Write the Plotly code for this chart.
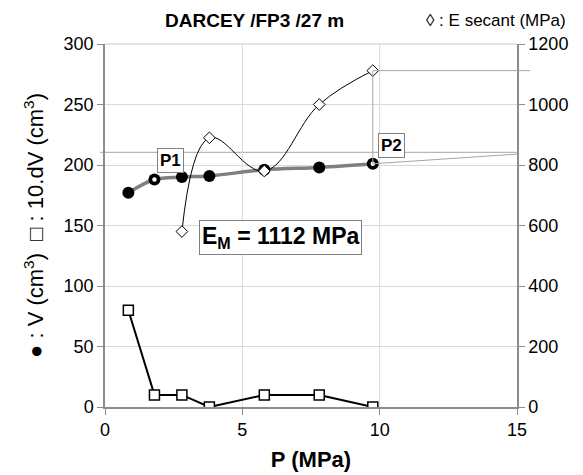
import plotly.graph_objects as go

# Data
P = [0.85, 1.8, 2.8, 3.8, 5.8, 7.8, 9.75]
V = [177, 188, 190, 191, 196, 198, 201]
dV10 = [80, 10, 10, 0, 10, 10, 0]
P_E = [2.8, 3.8, 5.8, 7.8, 9.75]
E_sec = [580, 890, 780, 1000, 1112]
E_M = 1112
V_ref = 210.5
V_ext_end = 209
x_ticks = [0, 5, 10, 15]
y_ticks = [0, 50, 100, 150, 200, 250, 300]
y2_ticks = [0, 200, 400, 600, 800, 1000, 1200]

FONT = "Liberation Sans, Arial, sans-serif"
GRID = "#d9d9d9"
AX = "#8c8c8c"

W, H = 583, 475
L, R, T, B = 105, 66, 44, 68
pw, ph = W - L - R, H - T - B


def px2paper(px, py):
    return (px - L) / pw, (H - B - py) / ph


fig = go.Figure()

# Thick gray curve through V points
fig.add_trace(go.Scatter(x=P, y=V, mode="lines", line=dict(color="#7f7f7f", width=3.5, shape="spline"),
                         hoverinfo="skip", showlegend=False))
# V points
fig.add_trace(go.Scatter(x=P, y=V, mode="markers",
                         marker=dict(symbol="circle", size=12, color="black"),
                         showlegend=False))
# P1 / P2 open markers
fig.add_trace(go.Scatter(x=[P[1], P[-1]], y=[V[1], V[-1]], mode="markers",
                         marker=dict(symbol="circle", size=6, color="white", line=dict(color="black", width=1.5)),
                         showlegend=False))
# dV line
fig.add_trace(go.Scatter(x=P, y=dV10, mode="lines+markers",
                         line=dict(color="black", width=2),
                         marker=dict(symbol="square", size=10, color="white", line=dict(color="black", width=1.5)),
                         showlegend=False))
# E secant
fig.add_trace(go.Scatter(x=P_E, y=E_sec, mode="lines+markers", yaxis="y2",
                         line=dict(color="black", width=1, shape="spline", smoothing=1.1),
                         marker=dict(symbol="diamond", size=9, color="white", line=dict(color="black", width=1)),
                         showlegend=False))

# Construction lines
thin = dict(color="#a6a6a6", width=1)
fig.add_shape(type="line", xref="paper", yref="y", x0=-0.012, x1=1, y0=V_ref, y1=V_ref, line=thin, layer="below")
fig.add_shape(type="line", xref="x", yref="y", x0=P[-1], x1=P[-1], y0=V[-1], y1=E_M / 4, line=thin)
fig.add_shape(type="line", xref="paper", yref="y2", x0=P_E[-1] / 15, x1=(530 - L) / pw, y0=E_M, y1=E_M, line=thin)
fig.add_shape(type="line", xref="x", yref="y", x0=P[-1], x1=15, y0=V[-1], y1=V_ext_end, line=thin)

# Annotations
box = dict(bordercolor="#808080", borderwidth=1, bgcolor="white", borderpad=2)
fig.add_annotation(x=2.4, y=204, xref="x", yref="y", text="<b>P1</b>", showarrow=False,
                   font=dict(family=FONT, size=17, color="black"), **box)
fig.add_annotation(x=10.44, y=216.5, xref="x", yref="y", text="<b>P2</b>", showarrow=False,
                   font=dict(family=FONT, size=17, color="black"), **box)
fig.add_annotation(x=6.4, y=140.5, xref="x", yref="y", text="<b>E<sub>M</sub> = 1112 MPa</b>", showarrow=False,
                   font=dict(family=FONT, size=23, color="black"),
                   bordercolor="#808080", borderwidth=1, bgcolor="white", borderpad=2)
tx, ty = px2paper(254, 20)
fig.add_annotation(x=tx, y=ty, xref="paper", yref="paper", text="<b>DARCEY /FP3 /27 m</b>", showarrow=False,
                   font=dict(family=FONT, size=19, color="black"), xanchor="center", yanchor="middle")
lx, ly = px2paper(568, 20)
fig.add_annotation(x=lx, y=ly, xref="paper", yref="paper", text="◊ : E secant (MPa)", showarrow=False,
                   font=dict(family=FONT, size=17, color="black"), xanchor="right", yanchor="middle")

fig.update_layout(
    width=W, height=H,
    margin=dict(l=L, r=R, t=T, b=B, autoexpand=False),
    plot_bgcolor="white", paper_bgcolor="white",
    font=dict(family=FONT, size=18, color="black"),
    xaxis=dict(range=[0, 15], tickvals=x_ticks, showgrid=False, zeroline=False, automargin=False,
               showline=True, linecolor=AX, linewidth=1.5, ticks="outside", ticklen=6, tickcolor=AX,
               title=dict(text="<b>P (MPa)</b>", font=dict(size=22), standoff=12)),
    yaxis=dict(range=[0, 300], tickvals=y_ticks, showgrid=True, gridcolor=GRID, zeroline=False, automargin=False,
               showline=True, linecolor=AX, linewidth=1.5, ticks="outside", ticklen=6, tickcolor=AX,
               title=dict(text="● : V (cm<sup>3</sup>)  □ : 10.dV (cm<sup>3</sup>)", font=dict(size=22), standoff=14)),
    yaxis2=dict(range=[0, 1200], tickvals=y2_ticks, overlaying="y", side="right", showgrid=False,
                zeroline=False, showline=True, linecolor=AX, linewidth=1.5, ticks="outside", ticklen=6,
                tickcolor=AX, automargin=False),
)
# vertical gridlines at 5 and 10, top border
for xv in x_ticks[1:-1]:
    fig.add_shape(type="line", xref="x", yref="paper", x0=xv, x1=xv, y0=0, y1=1,
                  line=dict(color=GRID, width=1), layer="below")
fig.add_shape(type="line", xref="paper", yref="paper", x0=0, x1=1, y0=1, y1=1,
              line=dict(color=GRID, width=1.5), layer="below")

fig.write_html("out.html")
